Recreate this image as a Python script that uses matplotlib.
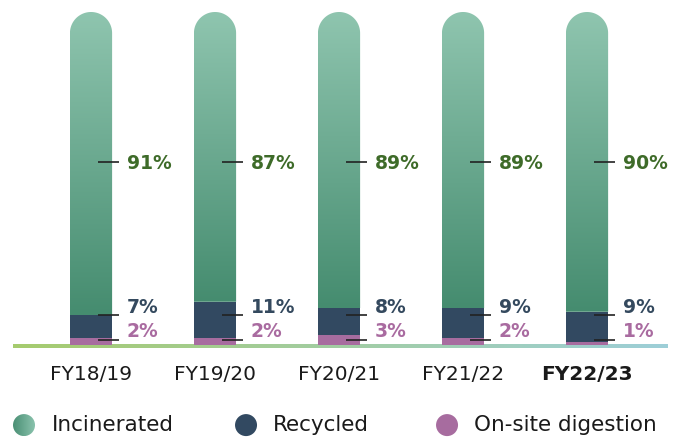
import numpy as np
import matplotlib
matplotlib.use("Agg")
import matplotlib.pyplot as plt
from matplotlib.path import Path
from matplotlib.patches import PathPatch, Rectangle, Ellipse
from matplotlib.colors import LinearSegmentedColormap

categories = ["FY18/19", "FY19/20", "FY20/21", "FY21/22", "FY22/23"]
incinerated = [91, 87, 89, 89, 90]
recycled = [7, 11, 8, 9, 9]
digestion = [2, 2, 3, 2, 1]
legend_labels = ["Incinerated", "Recycled", "On-site digestion"]

C_TOP = "#8fc5af"
C_BOT = "#458c6f"
C_NAVY = "#324961"
C_PINK = "#a76c9f"
T_GREEN = "#3e6b29"
T_NAVY = "#34495e"
T_PINK = "#a96ba0"

plt.rcParams['font.family'] = ['DejaVu Sans']

fig = plt.figure(figsize=(6.86, 4.37), dpi=100)
ax = fig.add_axes([0, 0, 1, 1])
XL = (-0.734, 4.798)
YL = (-27.6, 103.6)
PX_X = 124.0   # px per x unit
PX_Y = 3.33    # px per y unit


def px2data(px, py):
    return (px - 91) / PX_X, (345 - py) / PX_Y


W = 0.34
rx = W / 2
ry = rx * PX_X / PX_Y

grad_cmap = LinearSegmentedColormap.from_list("g", [C_BOT, C_TOP])
grad_v = np.linspace(0, 1, 256).reshape(-1, 1)

for i, cat in enumerate(categories):
    p = digestion[i]
    r = recycled[i]
    inc = incinerated[i]
    x0 = i - W / 2
    ax.add_patch(Rectangle((x0, 0), W, p, facecolor=C_PINK, edgecolor="none", zorder=3))
    ax.add_patch(Rectangle((x0, p), W, r, facecolor=C_NAVY, edgecolor="none", zorder=3))
    base = p + r
    top = base + inc
    th = np.linspace(0, np.pi, 60)
    arc_x = i + rx * np.cos(th)
    arc_y = top - ry + ry * np.sin(th)
    verts = [(x0 + W, base)] + list(zip(arc_x, arc_y)) + [(x0, base), (x0 + W, base)]
    codes = [Path.MOVETO] + [Path.LINETO] * (len(verts) - 2) + [Path.CLOSEPOLY]
    patch = PathPatch(Path(verts, codes), facecolor="none", edgecolor="none", zorder=3)
    ax.add_patch(patch)
    im = ax.imshow(grad_v, cmap=grad_cmap, origin="lower", aspect="auto",
                   extent=[x0, x0 + W, base, top], zorder=3, interpolation="bilinear")
    im.set_clip_path(patch)

    for ty, ly, val, col in [(55, 54.6, inc, T_GREEN), (9, 11.2, r, T_NAVY), (1.5, 4.2, p, T_PINK)]:
        ax.plot([i + 0.056, i + 0.226], [ty, ty], color="#222222", lw=1.2, zorder=4,
                solid_capstyle="butt")
        ax.text(i + 0.29, ly, f"{val}%", color=col, fontsize=13.5, fontweight="bold",
                ha="left", va="center", zorder=5)

    ax.text(i, -8.9, cat, fontsize=14.5, color="#1a1a1a", ha="center", va="center",
            fontweight="bold" if i == len(categories) - 1 else "normal")

# baseline gradient
line_cmap = LinearSegmentedColormap.from_list("l", ["#a6cb6e", "#9dcfd8"])
grad_h = np.linspace(0, 1, 256).reshape(1, -1)
bx0, _ = px2data(13, 0)
bx1, _ = px2data(667, 0)
ax.imshow(grad_h, cmap=line_cmap, aspect="auto", extent=[bx0, bx1, -0.9, 0.1],
          zorder=2, interpolation="bilinear")

# legend
leg_py = 425
leg_items = [(24, 52, None), (246, 273, C_NAVY), (447, 474, C_PINK)]
leg_cmap = LinearSegmentedColormap.from_list("lg", ["#4a8f74", "#8dc5b0"])
for (cx, tx, col), lab in zip(leg_items, legend_labels):
    dx, dy = px2data(cx, leg_py)
    ew = 22 / PX_X
    eh = 22 / PX_Y
    if col is None:
        e = Ellipse((dx, dy), ew, eh, facecolor="none", edgecolor="none")
        ax.add_patch(e)
        gi = ax.imshow(grad_h, cmap=leg_cmap, aspect="auto",
                       extent=[dx - ew / 2, dx + ew / 2, dy - eh / 2, dy + eh / 2],
                       interpolation="bilinear", zorder=3)
        gi.set_clip_path(e)
    else:
        ax.add_patch(Ellipse((dx, dy), ew, eh, facecolor=col, edgecolor="none", zorder=3))
    tdx, _ = px2data(tx, leg_py)
    ax.text(tdx, dy, lab, fontsize=15.5, color="#1a1a1a", ha="left", va="center")

ax.set_xlim(*XL)
ax.set_ylim(*YL)
ax.axis("off")

fig.savefig("out.png", dpi=100)
